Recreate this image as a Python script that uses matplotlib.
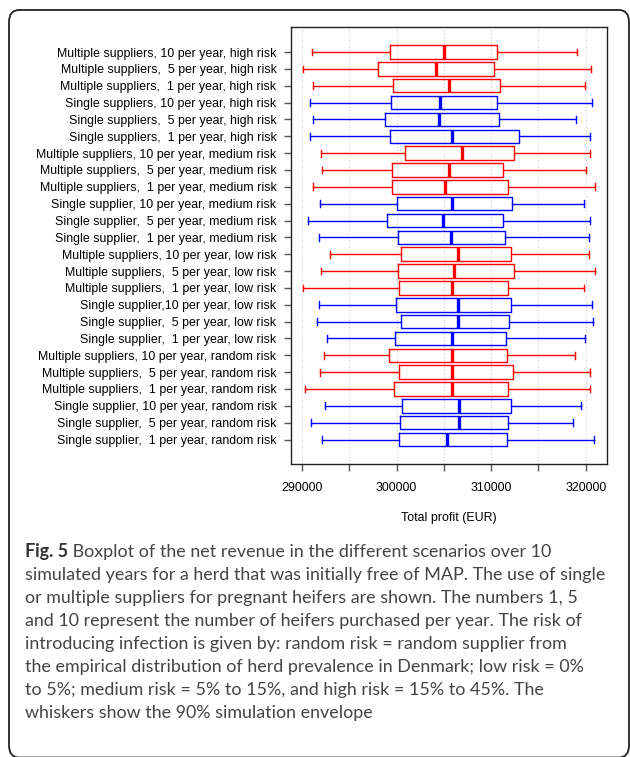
import matplotlib
matplotlib.use("Agg")
import matplotlib.pyplot as plt
from matplotlib.patches import FancyBboxPatch

# scenario labels, top to bottom
labels = [
    "Multiple suppliers, 10 per year, high risk",
    "Multiple suppliers,  5 per year, high risk",
    "Multiple suppliers,  1 per year, high risk",
    "Single suppliers, 10 per year, high risk",
    "Single suppliers,  5 per year, high risk",
    "Single suppliers,  1 per year, high risk",
    "Multiple suppliers, 10 per year, medium risk",
    "Multiple suppliers,  5 per year, medium risk",
    "Multiple suppliers,  1 per year, medium risk",
    "Single supplier, 10 per year, medium risk",
    "Single supplier,  5 per year, medium risk",
    "Single supplier,  1 per year, medium risk",
    "Multiple suppliers, 10 per year, low risk",
    "Multiple suppliers,  5 per year, low risk",
    "Multiple suppliers,  1 per year, low risk",
    "Single supplier,10 per year, low risk",
    "Single supplier,  5 per year, low risk",
    "Single supplier,  1 per year, low risk",
    "Multiple suppliers, 10 per year, random risk",
    "Multiple suppliers,  5 per year, random risk",
    "Multiple suppliers,  1 per year, random risk",
    "Single supplier, 10 per year, random risk",
    "Single supplier,  5 per year, random risk",
    "Single supplier,  1 per year, random risk",
]

# supplier type: M = multiple (red), S = single (blue)
supplier = ["M", "M", "M", "S", "S", "S"] * 4

# 5th percentile, Q1, median, Q3, 95th percentile (EUR)
whisker_lo = [291056, 290070, 291197, 290810, 291197, 290880,
              292007, 292113, 291197, 291901, 290634, 291831,
              292958, 291972, 290106, 291831, 291585, 292606,
              292289, 291937, 290282, 292465, 290951, 292077]
q1 = [299260, 298028, 299613, 299366, 298732, 299260,
      300880, 299542, 299472, 300035, 298944, 300106,
      300458, 300106, 300211, 299894, 300458, 299789,
      299190, 300211, 299683, 300563, 300387, 300246]
median = [305000, 304190, 305599, 304613, 304507, 305915,
          306937, 305599, 305141, 305845, 304894, 305775,
          306549, 306127, 305880, 306479, 306479, 305845,
          305845, 305880, 305915, 306655, 306620, 305352]
q3 = [310634, 310352, 310986, 310669, 310810, 312958,
      312430, 311303, 311831, 312218, 311303, 311444,
      312077, 312430, 311761, 312148, 311901, 311585,
      311690, 312289, 311761, 312148, 311831, 311690]
whisker_hi = [319085, 320528, 319965, 320634, 319014, 320458,
              320493, 320035, 321021, 319789, 320493, 320387,
              320387, 321021, 319859, 320704, 320810, 319930,
              318908, 320423, 320458, 319542, 318627, 320845]

caption_lines = [
    "Boxplot of the net revenue in the different scenarios over 10",
    "simulated years for a herd that was initially free of MAP. The use of single",
    "or multiple suppliers for pregnant heifers are shown. The numbers 1, 5",
    "and 10 represent the number of heifers purchased per year. The risk of",
    "introducing infection is given by: random risk = random supplier from",
    "the empirical distribution of herd prevalence in Denmark; low risk = 0%",
    "to 5%; medium risk = 5% to 15%, and high risk = 15% to 45%. The",
    "whiskers show the 90% simulation envelope",
]

colours = {"M": "#ff0000", "S": "#0000ff"}

plt.rcParams["font.family"] = ["Liberation Sans", "DejaVu Sans"]

W, H = 630, 757
fig = plt.figure(figsize=(W / 100, H / 100), dpi=100)

# rounded frame round the whole figure (bottom edge sits on the image border)
frame = FancyBboxPatch((9 / W, 1 - 757.5 / H), 620 / W, 747.5 / H,
                       boxstyle="round,pad=0,rounding_size=0.016",
                       transform=fig.transFigure, fill=False,
                       edgecolor="#222222", linewidth=1.3)
fig.patches.append(frame)

ax = fig.add_axes([291 / W, 1 - 464.3 / H, 315.7 / W, 437 / H])

n = len(labels)
positions = list(range(1, n + 1))
for i in range(n):
    c = colours[supplier[i]]
    stats = [dict(whislo=whisker_lo[i], q1=q1[i], med=median[i],
                  q3=q3[i], whishi=whisker_hi[i], fliers=[])]
    ax.bxp(stats, positions=[positions[i]], vert=False, widths=0.8,
           showfliers=False, manage_ticks=False,
           boxprops=dict(color=c, linewidth=1.0),
           whiskerprops=dict(color=c, linewidth=1.0, linestyle="-"),
           capprops=dict(color=c, linewidth=1.0),
           medianprops=dict(color=c, linewidth=2.4))

ax.set_ylim(n + 1.47, 1 - 1.47)
ax.set_xlim(288841, 322221)
ax.set_yticks(positions)
ax.set_yticklabels(labels)
ax.set_xticks(range(290000, 320001, 5000))
ax.set_xticklabels([str(v) if v % 10000 == 0 else "" for v in range(290000, 320001, 5000)])
ax.tick_params(axis="both", labelsize=8.9, colors="#555555", labelcolor="black",
               length=5, width=1.0)
ax.tick_params(axis="y", pad=5.5)
ax.tick_params(axis="x", pad=8)
ax.grid(axis="x", linestyle=(0, (1, 2)), color="#cccccc", linewidth=0.8)
ax.set_axisbelow(True)
for s in ax.spines.values():
    s.set_linewidth(1.0)
    s.set_color("#222222")
ax.set_xlabel("Total profit (EUR)", fontsize=8.9, labelpad=13)

# caption
cap_font = ["Lato", "DejaVu Sans"]
cap_size = 12.9
base_y = [557.3, 580.3, 603.3, 626.3, 649.3, 672.3, 695.3, 718.3]
fig_lbl = fig.text(25 / W, 1 - base_y[0] / H, "Fig. 5", fontsize=cap_size,
                   fontweight="bold", family=cap_font, color="#333333",
                   va="baseline", ha="left")
ax.annotate(" " + caption_lines[0], xy=(1, 0), xycoords=fig_lbl,
            fontsize=cap_size, family=cap_font, color="#444444",
            va="bottom", ha="left", annotation_clip=False)
for k in range(1, len(caption_lines)):
    fig.text(25 / W, 1 - base_y[k] / H, caption_lines[k], fontsize=cap_size,
             family=cap_font, color="#444444", va="baseline", ha="left")

fig.savefig("out.png", dpi=100)
